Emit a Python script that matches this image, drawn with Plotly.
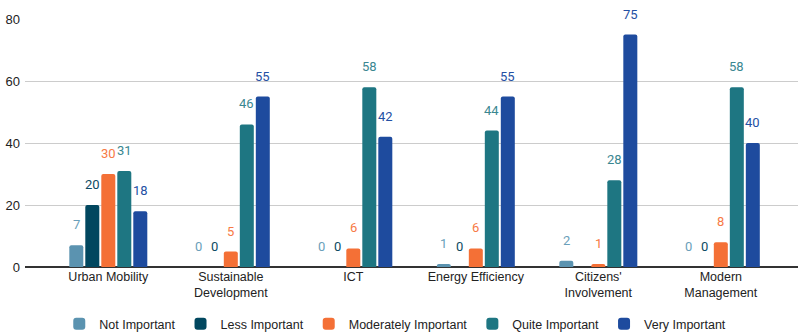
import plotly.graph_objects as go

categories = ["Urban Mobility", "Sustainable<br>Development", "ICT",
              "Energy Efficiency", "Citizens'<br>Involvement", "Modern<br>Management"]
series_names = ["Not Important", "Less Important", "Moderately Important",
                "Quite Important", "Very Important"]
not_important = [7, 0, 0, 1, 2, 0]
less_important = [20, 0, 0, 0, None, 0]
moderately_important = [30, 5, 6, 6, 1, 8]
quite_important = [31, 46, 58, 44, 28, 58]
very_important = [18, 55, 42, 55, 75, 40]
y_ticks = [0, 20, 40, 60, 80]

series_values = [not_important, less_important, moderately_important,
                 quite_important, very_important]
bar_colors = ["#5b93b0", "#01475f", "#f47036", "#1e7682", "#1e4b9e"]
label_colors = ["#6a9fba", "#0d4a63", "#f77a45", "#3a8791", "#2450a3"]

bargap = 0.347
bargroupgap = 0.125
n_series = len(series_names)
slot = (1 - bargap) / n_series
xs = list(range(len(categories)))

fig = go.Figure()
annotations = []
for j, (name, vals) in enumerate(zip(series_names, series_values)):
    fig.add_trace(go.Bar(
        x=xs, y=vals, name=name,
        marker=dict(color=bar_colors[j], line=dict(width=0)),
    ))
    # value labels sit above each bar, centred on its slot in the group
    for i, v in enumerate(vals):
        if v is None:
            continue
        annotations.append(dict(
            x=i + (j - (n_series - 1) / 2) * slot, y=v,
            xref="x", yref="y", text=str(v), showarrow=False,
            yanchor="bottom", yshift=11,
            font=dict(family="Roboto", size=13, color=label_colors[j]),
        ))

fig.update_layout(
    width=798, height=332,
    margin=dict(l=25, r=0, t=19, b=65, autoexpand=False),
    paper_bgcolor="white", plot_bgcolor="white",
    barmode="group", bargap=bargap, bargroupgap=bargroupgap,
    barcornerradius=2,
    font=dict(family="Liberation Sans, Arial, sans-serif", size=12, color="#222222"),
    xaxis=dict(
        range=[-0.68, 5.63], tickvals=xs, ticktext=categories,
        showgrid=False, zeroline=False, showline=False, ticks="",
        tickfont=dict(size=12.5, color="#222222"), automargin=False,
    ),
    yaxis=dict(
        range=[0, 80], tickvals=y_ticks, showgrid=True, gridcolor="#cccccc",
        gridwidth=1, zeroline=True, zerolinecolor="#333333", zerolinewidth=2,
        ticks="", tickfont=dict(size=13, color="#222222"), ticklabelstandoff=4,
        automargin=False,
    ),
    legend=dict(
        orientation="h", x=0.479, xanchor="center", y=-0.23, yanchor="middle",
        font=dict(size=12.5, color="#222222"), itemwidth=30,
    ),
    showlegend=True,
    annotations=annotations,
)

fig.write_html("out.html")
